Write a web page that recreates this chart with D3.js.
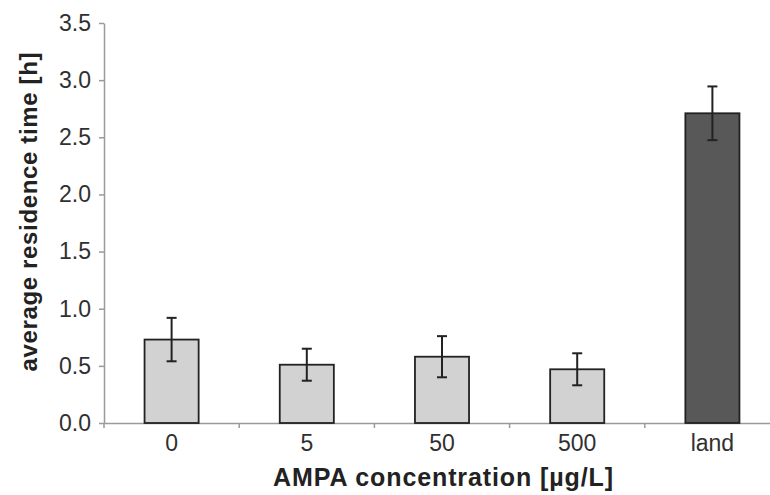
<!DOCTYPE html>
<html>
<head>
<meta charset="utf-8">
<script src="https://cdn.jsdelivr.net/npm/d3@7"></script>
<style>
  body { margin: 0; background: #fff; }
  svg { display: block; font-family: "Liberation Sans", Arial, sans-serif; }
</style>
</head>
<body>
<div id="chart"></div>
<script>
// data
var categories = ['0', '5', '50', '500', 'land'];
var means = [0.73, 0.51, 0.58, 0.47, 2.71];
var errors = [0.19, 0.14, 0.18, 0.14, 0.235];
var yTicks = [0, 0.5, 1.0, 1.5, 2.0, 2.5, 3.0, 3.5];

var svgWidth = 770;
var svgHeight = 495;

var chartMargin = { top: 23, left: 104 };
var chartWidth = 676;
var chartHeight = 400;

var svg = d3.select('#chart')
    .append('svg')
    .attr('width', svgWidth)
    .attr('height', svgHeight);

var chartGroup = svg.append('g')
    .attr('transform', `translate(${chartMargin.left}, ${chartMargin.top})`);

var xScale = d3.scaleBand()
    .domain(categories)
    .range([0, chartWidth])
    .paddingInner(0.6)
    .paddingOuter(0.3);

var yScale = d3.scaleLinear()
    .domain([0, 3.5])
    .range([chartHeight, 0]);

var axisColor = '#9a9a9a';

// y axis
var leftAxis = d3.axisLeft(yScale)
    .tickValues(yTicks)
    .tickFormat(d3.format('.1f'))
    .tickSizeInner(5)
    .tickSizeOuter(0)
    .tickPadding(8);
var yAxisG = chartGroup.append('g').call(leftAxis);

// x axis: ticks between categories
var step = xScale.step();
var bottomAxis = d3.axisBottom(xScale).tickSize(0).tickPadding(12);
var xAxisG = chartGroup.append('g')
    .attr('transform', `translate(0, ${chartHeight})`)
    .call(bottomAxis);
xAxisG.selectAll('.sep')
    .data(d3.range(0, categories.length))
    .enter()
    .append('line')
    .attr('class', 'sep')
    .attr('x1', i => i * step)
    .attr('x2', i => i * step)
    .attr('y1', 0)
    .attr('y2', 5);

[yAxisG, xAxisG].forEach(function(g) {
    g.selectAll('path, line').attr('stroke', axisColor).attr('stroke-width', 1.5);
    g.selectAll('text')
        .attr('fill', '#303030')
        .style('font-size', '23px');
});

// bars
chartGroup.selectAll('rect.bar')
    .data(means)
    .enter()
    .append('rect')
    .attr('class', 'bar')
    .attr('x', (d, i) => xScale(categories[i]))
    .attr('y', d => yScale(d))
    .attr('width', xScale.bandwidth())
    .attr('height', d => chartHeight - yScale(d))
    .attr('fill', (d, i) => categories[i] === 'land' ? '#585858' : '#d2d2d2')
    .attr('stroke', '#222')
    .attr('stroke-width', 1.8);

// error bars
var cap = 5;
var errG = chartGroup.selectAll('g.err')
    .data(means)
    .enter()
    .append('g')
    .attr('class', 'err')
    .attr('stroke', '#222')
    .attr('stroke-width', 2);
errG.append('line')
    .attr('x1', (d, i) => xScale(categories[i]) + xScale.bandwidth() / 2)
    .attr('x2', (d, i) => xScale(categories[i]) + xScale.bandwidth() / 2)
    .attr('y1', (d, i) => yScale(d + errors[i]))
    .attr('y2', (d, i) => yScale(d - errors[i]));
[1, -1].forEach(function(sign) {
    errG.append('line')
        .attr('x1', (d, i) => xScale(categories[i]) + xScale.bandwidth() / 2 - cap)
        .attr('x2', (d, i) => xScale(categories[i]) + xScale.bandwidth() / 2 + cap)
        .attr('y1', (d, i) => yScale(d + sign * errors[i]))
        .attr('y2', (d, i) => yScale(d + sign * errors[i]));
});

// axis titles
svg.append('text')
    .attr('x', 443)
    .attr('y', 486)
    .attr('text-anchor', 'middle')
    .attr('font-weight', 'bold')
    .attr('fill', '#222')
    .style('font-size', '25px')
    .attr('textLength', 340)
    .attr('lengthAdjust', 'spacing')
    .text('AMPA concentration [µg/L]');

svg.append('text')
    .attr('transform', 'translate(37, 212) rotate(-90)')
    .attr('text-anchor', 'middle')
    .attr('font-weight', 'bold')
    .attr('fill', '#222')
    .style('font-size', '24px')
    .attr('textLength', 319)
    .attr('lengthAdjust', 'spacing')
    .text('average residence time [h]');
</script>
</body>
</html>
